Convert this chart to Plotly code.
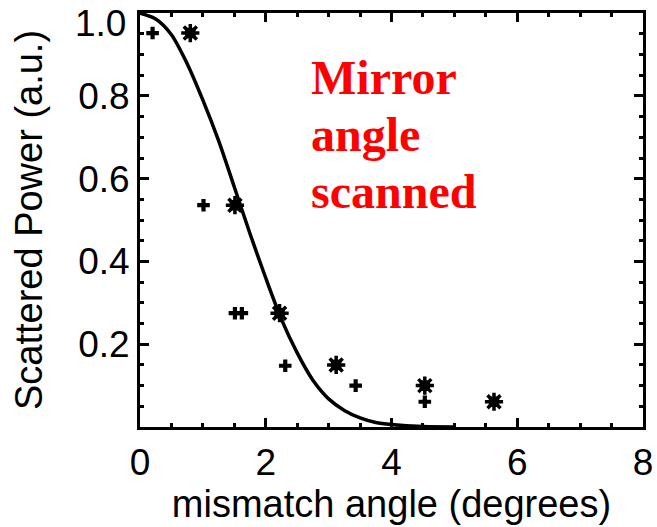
import numpy as np
import plotly.graph_objects as go

# Data
plus_x = [0.2, 1.01, 1.51, 1.62, 2.31, 3.43, 4.53]
plus_y = [0.952, 0.536, 0.275, 0.275, 0.148, 0.100, 0.061]
star_x = [0.80, 1.51, 2.22, 3.12, 4.53, 5.63]
star_y = [0.952, 0.536, 0.275, 0.150, 0.100, 0.061]
curve_x = [0, 0.25, 0.5, 0.75, 1.0, 1.25, 1.5, 1.75, 2.0, 2.25, 2.5, 2.75, 3.0, 3.25, 3.5, 3.75, 4.0, 4.5, 5.0]
curve_y = [1.0, 0.986, 0.948, 0.878, 0.790, 0.692, 0.580, 0.467, 0.360, 0.260, 0.179, 0.113, 0.068, 0.040, 0.022, 0.011, 0.006, 0.001, 0.0]
x_ticks = [0, 2, 4, 6, 8]
y_ticks = [0.2, 0.4, 0.6, 0.8, 1.0]
y_ticktext = ["0.2", "0.4", "0.6", "0.8", ""]
top_label = "1.0"

fig = go.Figure()
fig.add_trace(go.Scatter(x=curve_x, y=curve_y, mode="lines",
                         line=dict(color="black", width=3.5, shape="spline", smoothing=0.8),
                         showlegend=False, hoverinfo="skip", cliponaxis=True))
fig.add_trace(go.Scatter(x=plus_x, y=plus_y, mode="markers",
                         marker=dict(symbol="cross", size=10.5, color="black"), showlegend=False))
fig.add_trace(go.Scatter(x=star_x, y=star_y, mode="markers",
                         marker=dict(symbol="square", size=10.5, color="black"), showlegend=False))
fig.add_trace(go.Scatter(x=star_x, y=star_y, mode="markers",
                         marker=dict(symbol="x-thin-open", size=13, color="black",
                                     line=dict(color="black", width=3.5)), showlegend=False))
fig.add_trace(go.Scatter(x=star_x, y=star_y, mode="markers",
                         marker=dict(symbol="cross-thin-open", size=13, color="black",
                                     line=dict(color="black", width=3.5)), showlegend=False))

axis_common = dict(showline=True, linecolor="black", linewidth=3, mirror="allticks",
                   ticks="inside", ticklen=9, tickwidth=3, tickcolor="black",
                   showgrid=False, zeroline=False, ticklabeloverflow="allow", automargin=False,
                   tickfont=dict(family="Liberation Sans, Arial", size=37, color="black"),
                   title_font=dict(family="Liberation Sans, Arial", size=38, color="black"))

fig.update_xaxes(range=[0, 8], tickvals=x_ticks,
                 minor=dict(tickvals=list(np.arange(0, 8.01, 0.5)), ticklen=4, tickwidth=3,
                            tickcolor="black", ticks="inside"),
                 title_text="mismatch angle (degrees)", title_standoff=2,
                 ticklabelstandoff=1, **axis_common)
fig.update_yaxes(range=[0, 1.0005], tickvals=y_ticks, ticktext=y_ticktext,
                 minor=dict(tickvals=list(np.arange(0, 1.001, 0.05)), ticklen=4, tickwidth=3,
                            tickcolor="black", ticks="inside"),
                 title_text="Scattered Power (a.u.)", title_standoff=24,
                 ticklabelstandoff=0, **axis_common)

# top tick label drawn slightly below the frame edge, as in the reference
fig.add_annotation(xref="paper", x=-12 / 503, xanchor="right",
                   yref="paper", y=1 - 10.5 / 414, yanchor="middle",
                   text=top_label, showarrow=False,
                   font=dict(family="Liberation Sans, Arial", size=37, color="black"))

red_font = dict(family="Liberation Serif, Times New Roman", size=48, color="red")
for i, txt in enumerate(["<b>Mirror</b>", "<b>angle</b>", "<b>scanned</b>"]):
    fig.add_annotation(x=2.68, xref="x", xanchor="left",
                       y=(427 - 97 - i * 57) / 414.0, yref="y", yanchor="bottom",
                       yshift=-9, text=txt, showarrow=False, font=red_font)

fig.update_layout(width=657, height=527, margin=dict(l=140, r=14, t=13, b=100),
                  plot_bgcolor="white", paper_bgcolor="white")
fig.write_html("out.html")
